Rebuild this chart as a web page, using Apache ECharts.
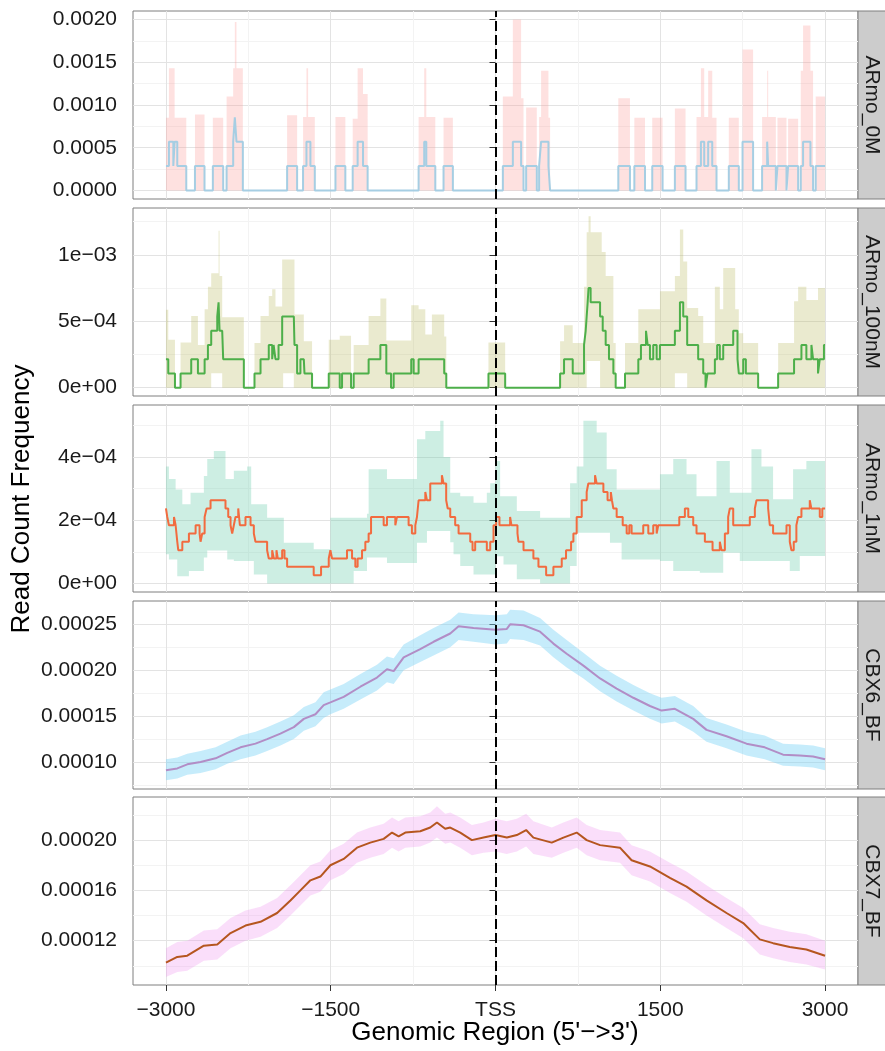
<!DOCTYPE html>
<html><head><meta charset="utf-8">
<script src="https://cdn.jsdelivr.net/npm/echarts@6/dist/echarts.min.js"></script>
<style>html,body{margin:0;padding:0;background:#fff}#c{width:885px;height:1051px}</style>
</head><body><div id="c"></div>
<script>
// ---------------- DATA ----------------
const facetNames = ['ARmo_0M', 'ARmo_100nM', 'ARmo_1nM', 'CBX6_BF', 'CBX7_BF'];
const xTicks = [-3000, -1500, 0, 1500, 3000];
const xTickLabels = ['\u22123000', '\u22121500', 'TSS', '1500', '3000'];
const xMinor = [-2250, -750, 750, 2250];

// Panel 1: ARmo_0M (step data; ribbon from 0 to upper)
const p1X = [-3000,-2973,-2933,-2921,-2897,-2815,-2736,-2649,-2573,-2479,
  -2448,-2388,-2373,-2358,-2300,-1897,-1806,-1752,-1721,-1706,
  -1685,-1645,-1457,-1367,-1300,-1255,-1206,-1164,-700,-649,
  -630,-548,-473,-388,67,158,233,255,279,376,
  397,415,482,497,1118,1224,1264,1361,1427,1521,
  1633,1730,1830,1870,1900,1936,1973,2012,2124,2215,
  2249,2345,2427,2473,2482,2552,2567,2649,2664,2755,
  2779,2800,2867,2891,2915,3000];
const p1Mean = [2.86e-4,5.71e-4,2.86e-4,5.71e-4,2.86e-4,0,2.86e-4,0,2.86e-4,0,
  2.86e-4,5.71e-4,8.57e-4,5.71e-4,0,2.86e-4,0,2.86e-4,5.71e-4,5.71e-4,
  2.86e-4,0,2.86e-4,0,2.86e-4,5.71e-4,2.86e-4,0,2.86e-4,5.71e-4,
  2.86e-4,0,2.86e-4,0,2.86e-4,5.71e-4,2.86e-4,0,2.86e-4,0,
  2.86e-4,5.71e-4,2.86e-4,0,2.86e-4,0,2.86e-4,0,2.86e-4,0,
  2.86e-4,0,2.86e-4,5.71e-4,2.86e-4,5.71e-4,2.86e-4,0,2.86e-4,0,
  5.71e-4,0,2.86e-4,5.71e-4,2.86e-4,0,2.86e-4,0,2.86e-4,0,
  2.86e-4,5.71e-4,2.86e-4,0,2.86e-4,2.86e-4];
const p1Hi = [8.5e-4,1.43e-3,1.43e-3,8.5e-4,8.5e-4,0,8.9e-4,0,8.5e-4,0,
  1.1e-3,1.43e-3,1.97e-3,1.43e-3,0,8.8e-4,0,8.6e-4,1.43e-3,8.6e-4,
  8.6e-4,0,8.6e-4,0,8.4e-4,1.43e-3,1.13e-3,0,8.6e-4,1.43e-3,
  8.6e-4,0,8.5e-4,0,1.1e-3,2.0e-3,1.08e-3,0,9.7e-4,0,
  8.6e-4,1.4e-3,8.5e-4,0,1.08e-3,0,8.5e-4,0,8.5e-4,0,
  9.6e-4,0,8.6e-4,1.43e-3,8.6e-4,1.4e-3,8.5e-4,0,8.5e-4,0,
  1.65e-3,0,8.6e-4,1.4e-3,8.6e-4,0,8.5e-4,0,8.4e-4,0,
  1.4e-3,1.93e-3,1.4e-3,0,1.1e-3,1.1e-3];

// Panel 2: ARmo_100nM
const p2X = [-3000,-2979,-2918,-2867,-2770,-2709,-2648,-2618,-2588,-2533,
  -2521,-2512,-2488,-2479,-2291,-2194,-2139,-2064,-2033,-2020,
  -2003,-1975,-1942,-1933,-1836,-1830,-1806,-1776,-1745,-1739,
  -1670,-1518,-1418,-1397,-1315,-1291,-1155,-1048,-994,-951,
  -927,-767,-745,-700,-639,-579,-467,-448,-64,88,
  588,624,703,806,821,830,839,847,866,952,
  967,976,1003,1033,1073,1094,1179,1300,1324,1370,
  1385,1406,1436,1467,1497,1633,1679,1709,1745,1845,
  1891,1912,1930,1997,2018,2042,2073,2164,2182,2203,
  2215,2255,2279,2391,2573,2718,2755,2785,2830,2876,
  2891,2936,2952,2990,3000];
const p2Mean = [2.14e-4,1.07e-4,0,1.07e-4,2.14e-4,1.07e-4,2.14e-4,3.21e-4,4.28e-4,5.35e-4,
  6.42e-4,4.28e-4,4.28e-4,2.14e-4,0,1.07e-4,2.14e-4,3.21e-4,2.14e-4,3.21e-4,
  2.14e-4,3.21e-4,5.35e-4,5.35e-4,5.35e-4,3.21e-4,1.07e-4,2.14e-4,2.14e-4,1.07e-4,
  0,1.07e-4,0,1.07e-4,0,1.07e-4,2.14e-4,3.21e-4,1.07e-4,0,
  1.07e-4,2.14e-4,1.07e-4,2.14e-4,2.14e-4,2.14e-4,1.07e-4,0,1.07e-4,0,
  1.07e-4,2.14e-4,1.07e-4,3.21e-4,4.28e-4,5.35e-4,6.42e-4,7.49e-4,6.42e-4,5.35e-4,
  5.35e-4,4.28e-4,3.21e-4,2.14e-4,1.07e-4,0,1.07e-4,2.14e-4,3.21e-4,4.28e-4,
  3.21e-4,2.14e-4,3.21e-4,2.14e-4,3.21e-4,4.28e-4,6.42e-4,5.35e-4,3.21e-4,2.14e-4,
  1.07e-4,0,1.07e-4,2.14e-4,3.21e-4,2.14e-4,3.21e-4,4.28e-4,4.28e-4,2.14e-4,
  1.07e-4,2.14e-4,1.07e-4,0,1.07e-4,2.14e-4,2.14e-4,3.21e-4,2.14e-4,3.21e-4,
  2.14e-4,1.07e-4,2.14e-4,3.21e-4,3.21e-4];
const p2Lo = [0,0,0,0,0,0,0,0,1.08e-4,1.08e-4,
  1.08e-4,1.08e-4,0,0,0,0,0,0,0,0,
  0,0,0,1.08e-4,0,0,0,0,0,0,
  0,0,0,0,0,0,0,0,0,0,
  0,0,0,0,0,0,0,0,0,0,
  0,0,0,0,0,2e-4,2e-4,2e-4,2e-4,0,
  0,0,0,0,0,0,0,0,0,0,
  0,0,0,0,0,1.08e-4,1.08e-4,1.08e-4,0,0,
  0,0,0,0,0,0,0,0,0,0,
  0,0,0,0,0,0,0,0,0,0,
  0,0,0,0,0];
const p2Hi = [5.87e-4,3.6e-4,0,3.4e-4,5.4e-4,3.2e-4,5.9e-4,7.6e-4,8.6e-4,8.6e-4,
  1.18e-3,8.4e-4,5.3e-4,5.3e-4,0,3.35e-4,5.4e-4,6.9e-4,7.4e-4,7.4e-4,
  6.1e-4,6.1e-4,9.65e-4,9.65e-4,9.65e-4,5.5e-4,5.5e-4,5.5e-4,3.5e-4,3.5e-4,
  0,3.6e-4,3.9e-4,3.9e-4,0,3.2e-4,5.4e-4,6.7e-4,3.55e-4,3.55e-4,
  3.55e-4,6.2e-4,6.2e-4,5.9e-4,4.0e-4,5.5e-4,3.85e-4,0,3.4e-4,0,
  3.5e-4,4.7e-4,3.35e-4,7.6e-4,7.6e-4,1.17e-3,1.17e-3,1.29e-3,1.17e-3,1.17e-3,
  1.02e-3,1.02e-3,8.4e-4,8.4e-4,3.35e-4,0,3.35e-4,5.9e-4,5.9e-4,5.9e-4,
  5.9e-4,5.9e-4,5.9e-4,5.9e-4,7.25e-4,8.4e-4,1.19e-3,9.5e-4,6.0e-4,5.4e-4,
  3.35e-4,3.35e-4,3.35e-4,7.6e-4,7.6e-4,5.9e-4,9.0e-4,9.0e-4,5.9e-4,5.9e-4,
  4.1e-4,3.35e-4,3.35e-4,0,3.35e-4,6.5e-4,7.6e-4,7.6e-4,6.6e-4,6.6e-4,
  6.6e-4,7.5e-4,7.5e-4,7.5e-4,7.5e-4];

// Panel 3: ARmo_1nM (mean steps + separate ribbon steps)
const p3X = [-3000,-2988,-2973,-2927,-2912,-2897,-2888,-2851,-2791,-2730,
  -2694,-2685,-2670,-2648,-2630,-2594,-2458,-2433,-2412,-2397,
  -2382,-2367,-2342,-2327,-2276,-2230,-2200,-2185,-2079,-2064,
  -2033,-2018,-1994,-1982,-1942,-1921,-1897,-1655,-1588,-1518,
  -1503,-1488,-1352,-1306,-1276,-1255,-1215,-1185,-1155,-1133,
  -1018,-988,-912,-897,-791,-761,-730,-715,-700,-639,
  -624,-594,-488,-473,-449,-435,-412,-367,-336,-230,
  -209,-185,-79,-48,-18,6,36,133,145,200,
  209,255,345,391,461,527,603,642,688,709,
  739,785,830,845,906,921,982,1020,1050,1060,
  1073,1103,1158,1194,1218,1239,1345,1391,1436,1467,
  1482,1673,1724,1755,1800,1830,1906,1976,2042,2058,
  2088,2118,2133,2164,2315,2361,2376,2482,2497,2527,
  2649,2679,2694,2715,2739,2755,2785,2861,2875,2952,
  2975,3000];
const p3Mean = [2.37e-4,2.10e-4,1.84e-4,2.10e-4,1.84e-4,1.32e-4,1.05e-4,1.32e-4,1.58e-4,1.84e-4,
  1.58e-4,1.32e-4,1.58e-4,2.10e-4,2.37e-4,2.63e-4,2.37e-4,2.10e-4,1.84e-4,1.58e-4,
  1.84e-4,2.10e-4,2.37e-4,1.84e-4,2.10e-4,1.84e-4,1.58e-4,1.32e-4,1.05e-4,0.79e-4,
  1.05e-4,0.79e-4,1.05e-4,0.79e-4,1.05e-4,0.79e-4,0.53e-4,0.26e-4,0.53e-4,0.79e-4,
  1.05e-4,0.79e-4,1.05e-4,0.79e-4,0.53e-4,0.79e-4,1.05e-4,1.32e-4,1.58e-4,2.10e-4,
  1.84e-4,2.10e-4,1.84e-4,2.10e-4,1.84e-4,1.58e-4,1.84e-4,2.10e-4,2.63e-4,2.89e-4,
  2.63e-4,3.16e-4,3.42e-4,3.16e-4,2.63e-4,2.37e-4,2.10e-4,1.84e-4,1.58e-4,1.32e-4,
  1.05e-4,1.32e-4,1.05e-4,1.32e-4,1.84e-4,2.10e-4,1.84e-4,2.10e-4,1.84e-4,1.58e-4,
  1.32e-4,1.05e-4,0.79e-4,0.53e-4,0.26e-4,0.53e-4,0.79e-4,1.05e-4,1.32e-4,1.58e-4,
  2.10e-4,2.63e-4,2.89e-4,3.16e-4,3.42e-4,3.16e-4,2.89e-4,2.63e-4,2.89e-4,2.63e-4,
  2.37e-4,2.10e-4,1.84e-4,1.58e-4,1.84e-4,1.58e-4,1.84e-4,1.58e-4,1.84e-4,1.58e-4,
  1.84e-4,2.10e-4,2.37e-4,2.10e-4,1.84e-4,1.58e-4,1.32e-4,1.05e-4,1.32e-4,1.05e-4,
  1.58e-4,2.10e-4,2.37e-4,1.84e-4,2.10e-4,2.37e-4,2.63e-4,2.37e-4,1.84e-4,1.58e-4,
  1.84e-4,1.32e-4,1.05e-4,1.32e-4,1.84e-4,2.10e-4,2.37e-4,2.63e-4,2.37e-4,2.10e-4,
  2.37e-4,2.37e-4];
const p3BandX = [-3000,-2973,-2912,-2897,-2851,-2791,-2776,-2655,-2624,-2564,
  -2458,-2442,-2382,-2261,-2224,-2200,-2079,-1927,-1655,-1503,
  -1291,-1170,-1155,-988,-715,-639,-624,-503,-473,-412,
  -382,-321,-200,-79,-48,0,42,73,194,406,
  679,739,800,921,1012,1042,1103,1148,1497,1618,
  1739,1830,1860,2012,2073,2133,2224,2330,2421,2527,
  2679,2709,2770,2830,3000];
const p3Lo = [0.92e-4,0.76e-4,0.76e-4,0.23e-4,0.23e-4,0.39e-4,0.39e-4,0.82e-4,1.04e-4,1.04e-4,
  1.04e-4,0.76e-4,0.71e-4,0.71e-4,0.71e-4,0.28e-4,0,0,0,0,
  0.39e-4,0.82e-4,0.82e-4,0.65e-4,1.29e-4,1.29e-4,1.66e-4,1.66e-4,1.66e-4,1.30e-4,
  0.92e-4,0.55e-4,0.28e-4,0.28e-4,0.28e-4,0.86e-4,0.86e-4,0.60e-4,0.13e-4,0,
  0.55e-4,1.60e-4,1.60e-4,1.60e-4,1.60e-4,1.29e-4,1.29e-4,0.76e-4,0.71e-4,0.39e-4,
  0.39e-4,0.39e-4,0.34e-4,0.34e-4,0.97e-4,0.97e-4,0.71e-4,0.71e-4,0.71e-4,0.71e-4,
  0.39e-4,0.39e-4,0.87e-4,0.87e-4,0.87e-4];
const p3Hi = [3.70e-4,3.30e-4,2.97e-4,2.97e-4,2.50e-4,2.50e-4,2.87e-4,3.40e-4,3.93e-4,4.19e-4,
  3.30e-4,3.30e-4,3.56e-4,3.70e-4,2.50e-4,2.50e-4,2.08e-4,1.29e-4,1.08e-4,2.08e-4,
  2.08e-4,2.20e-4,3.61e-4,3.30e-4,4.56e-4,4.82e-4,4.82e-4,5.14e-4,4.00e-4,2.87e-4,
  2.87e-4,2.76e-4,2.55e-4,2.87e-4,3.17e-4,3.87e-4,2.76e-4,2.76e-4,2.29e-4,2.08e-4,
  3.17e-4,3.70e-4,5.14e-4,4.77e-4,3.61e-4,3.61e-4,2.97e-4,2.97e-4,3.45e-4,3.93e-4,
  3.45e-4,2.76e-4,2.76e-4,3.87e-4,3.87e-4,2.87e-4,2.87e-4,4.24e-4,3.70e-4,2.66e-4,
  2.66e-4,3.61e-4,3.61e-4,3.87e-4,3.87e-4];

// Panel 4: CBX6_BF
const p4X = [-3000,-2897,-2806,-2685,-2548,-2442,-2321,-2185,-2079,-1958,
  -1836,-1745,-1639,-1564,-1503,-1382,-1230,-1079,-988,-927,
  -836,-685,-564,-412,-336,-200,0,103,133,255,
  406,527,648,800,952,1103,1255,1406,1512,1633,
  1800,1921,2103,2285,2451,2618,2770,2891,3000];
const p4Mean = [0.91e-4,0.93e-4,0.975e-4,1.00e-4,1.04e-4,1.10e-4,1.16e-4,1.20e-4,1.25e-4,1.31e-4,
  1.38e-4,1.47e-4,1.52e-4,1.62e-4,1.65e-4,1.71e-4,1.82e-4,1.92e-4,2.01e-4,1.99e-4,
  2.14e-4,2.23e-4,2.31e-4,2.40e-4,2.48e-4,2.46e-4,2.44e-4,2.45e-4,2.50e-4,2.49e-4,
  2.42e-4,2.29e-4,2.18e-4,2.05e-4,1.91e-4,1.80e-4,1.70e-4,1.61e-4,1.56e-4,1.58e-4,
  1.47e-4,1.35e-4,1.28e-4,1.20e-4,1.16e-4,1.08e-4,1.07e-4,1.06e-4,1.03e-4];
const p4Lo = [0.80e-4,0.82e-4,0.86e-4,0.88e-4,0.92e-4,0.98e-4,1.03e-4,1.07e-4,1.12e-4,1.18e-4,
  1.25e-4,1.34e-4,1.39e-4,1.48e-4,1.52e-4,1.58e-4,1.68e-4,1.78e-4,1.87e-4,1.85e-4,
  2.00e-4,2.09e-4,2.16e-4,2.25e-4,2.33e-4,2.31e-4,2.28e-4,2.29e-4,2.34e-4,2.33e-4,
  2.27e-4,2.14e-4,2.03e-4,1.91e-4,1.77e-4,1.66e-4,1.56e-4,1.47e-4,1.42e-4,1.44e-4,
  1.33e-4,1.22e-4,1.15e-4,1.07e-4,1.03e-4,0.96e-4,0.95e-4,0.94e-4,0.91e-4];
const p4Hi = [1.03e-4,1.05e-4,1.09e-4,1.12e-4,1.16e-4,1.22e-4,1.29e-4,1.33e-4,1.38e-4,1.44e-4,
  1.51e-4,1.60e-4,1.65e-4,1.76e-4,1.79e-4,1.85e-4,1.96e-4,2.06e-4,2.15e-4,2.13e-4,
  2.28e-4,2.38e-4,2.46e-4,2.55e-4,2.63e-4,2.61e-4,2.60e-4,2.61e-4,2.66e-4,2.65e-4,
  2.57e-4,2.44e-4,2.33e-4,2.19e-4,2.05e-4,1.94e-4,1.84e-4,1.75e-4,1.70e-4,1.72e-4,
  1.61e-4,1.48e-4,1.41e-4,1.33e-4,1.29e-4,1.20e-4,1.19e-4,1.18e-4,1.15e-4];

// Panel 5: CBX7_BF
const p5X = [-3000,-2897,-2806,-2655,-2533,-2412,-2276,-2139,-1988,-1867,
  -1776,-1685,-1594,-1503,-1382,-1261,-1140,-1018,-942,-882,
  -821,-685,-594,-533,-458,-412,-321,-215,-109,0,
  103,194,279,345,512,618,739,830,952,1133,
  1239,1406,1588,1739,1921,2103,2255,2406,2527,2679,
  2830,3000];
const p5Mean = [1.025e-4,1.07e-4,1.08e-4,1.16e-4,1.17e-4,1.26e-4,1.32e-4,1.35e-4,1.42e-4,1.52e-4,
  1.60e-4,1.68e-4,1.71e-4,1.80e-4,1.85e-4,1.94e-4,1.98e-4,2.01e-4,2.06e-4,2.03e-4,
  2.06e-4,2.07e-4,2.10e-4,2.14e-4,2.09e-4,2.10e-4,2.06e-4,2.00e-4,2.02e-4,2.04e-4,
  2.02e-4,2.04e-4,2.08e-4,2.02e-4,1.98e-4,2.02e-4,2.06e-4,2.00e-4,1.96e-4,1.94e-4,
  1.84e-4,1.79e-4,1.70e-4,1.63e-4,1.52e-4,1.42e-4,1.34e-4,1.21e-4,1.18e-4,1.15e-4,
  1.13e-4,1.08e-4];
const p5Lo = [0.91e-4,0.95e-4,0.96e-4,1.04e-4,1.05e-4,1.14e-4,1.20e-4,1.23e-4,1.30e-4,1.40e-4,
  1.48e-4,1.56e-4,1.59e-4,1.68e-4,1.73e-4,1.82e-4,1.86e-4,1.89e-4,1.94e-4,1.91e-4,
  1.94e-4,1.95e-4,1.98e-4,2.02e-4,1.97e-4,1.98e-4,1.94e-4,1.88e-4,1.90e-4,1.91e-4,
  1.89e-4,1.91e-4,1.95e-4,1.89e-4,1.86e-4,1.90e-4,1.94e-4,1.88e-4,1.84e-4,1.82e-4,
  1.72e-4,1.67e-4,1.58e-4,1.51e-4,1.40e-4,1.30e-4,1.22e-4,1.09e-4,1.06e-4,1.03e-4,
  1.01e-4,0.97e-4];
const p5Hi = [1.14e-4,1.19e-4,1.20e-4,1.28e-4,1.29e-4,1.38e-4,1.44e-4,1.47e-4,1.54e-4,1.64e-4,
  1.72e-4,1.80e-4,1.83e-4,1.92e-4,1.97e-4,2.06e-4,2.10e-4,2.13e-4,2.18e-4,2.15e-4,
  2.18e-4,2.19e-4,2.22e-4,2.27e-4,2.21e-4,2.22e-4,2.18e-4,2.12e-4,2.14e-4,2.17e-4,
  2.15e-4,2.17e-4,2.21e-4,2.15e-4,2.10e-4,2.14e-4,2.18e-4,2.12e-4,2.08e-4,2.06e-4,
  1.96e-4,1.91e-4,1.82e-4,1.75e-4,1.64e-4,1.54e-4,1.46e-4,1.33e-4,1.30e-4,1.27e-4,
  1.25e-4,1.20e-4];

// Y tick values / labels per panel
const p1Ticks = [0, 0.0005, 0.001, 0.0015, 0.002];
const p1TickLabels = ['0.0000', '0.0005', '0.0010', '0.0015', '0.0020'];
const p1Minor = [0.00025, 0.00075, 0.00125, 0.00175];
const p2Ticks = [0, 0.0005, 0.001];
const p2TickLabels = ['0e+00', '5e\u221204', '1e\u221203'];
const p2Minor = [0.00025, 0.00075, 0.00125];
const p3Ticks = [0, 0.0002, 0.0004];
const p3TickLabels = ['0e+00', '2e\u221204', '4e\u221204'];
const p3Minor = [0.0001, 0.0003, 0.0005];
const p4Ticks = [0.0001, 0.00015, 0.0002, 0.00025];
const p4TickLabels = ['0.00010', '0.00015', '0.00020', '0.00025'];
const p4Minor = [0.000075, 0.000125, 0.000175, 0.000225];
const p5Ticks = [0.00012, 0.00016, 0.0002];
const p5TickLabels = ['0.00012', '0.00016', '0.00020'];
const p5Minor = [0.0001, 0.00014, 0.00018, 0.00022];

// Axis ranges (y) per panel
const yMins = [-0.0001, -0.000063, -0.000027, 0.0000706, 0.0000847];
const yMaxs = [0.0021, 0.001352, 0.000564, 0.0002754, 0.0002343];

// ---------------- CHART ----------------
const FONT = '"Liberation Sans", Arial, Helvetica, sans-serif';
const panels = [
  {x: p1X, mean: p1Mean, bx: p1X, lo: null, hi: p1Hi, step: true, ticks: p1Ticks, labels: p1TickLabels, minor: p1Minor,
   line: '#A6CEE3', band: 'rgba(251,154,153,0.30)'},
  {x: p2X, mean: p2Mean, bx: p2X, lo: p2Lo, hi: p2Hi, step: true, ticks: p2Ticks, labels: p2TickLabels, minor: p2Minor,
   line: '#4DAF4A', band: 'rgba(185,185,95,0.30)'},
  {x: p3X, mean: p3Mean, bx: p3BandX, lo: p3Lo, hi: p3Hi, step: true, ticks: p3Ticks, labels: p3TickLabels, minor: p3Minor,
   line: '#F26B3F', band: 'rgba(102,204,170,0.33)'},
  {x: p4X, mean: p4Mean, bx: p4X, lo: p4Lo, hi: p4Hi, step: false, ticks: p4Ticks, labels: p4TickLabels, minor: p4Minor,
   line: '#B28DC6', band: 'rgba(120,210,245,0.42)'},
  {x: p5X, mean: p5Mean, bx: p5X, lo: p5Lo, hi: p5Hi, step: false, ticks: p5Ticks, labels: p5TickLabels, minor: p5Minor,
   line: '#B5561F', band: 'rgba(238,145,238,0.30)'}
];
const gridTops = [11, 208, 405, 601, 797];
const gridHeights = [188, 188, 187, 188, 188];
const GL = 133, GR = 27;

function lab(ticks, labels, v) {
  for (let i = 0; i < ticks.length; i++) {
    if (Math.abs(ticks[i] - v) < Math.max(1e-12, Math.abs(ticks[i]) * 1e-6)) return labels[i];
  }
  return '';
}

const grids = [], xAxes = [], yAxes = [], series = [], graphics = [];
panels.forEach((p, i) => {
  const last = i === panels.length - 1;
  grids.push({left: GL, right: GR, top: gridTops[i], height: gridHeights[i], show: true,
    backgroundColor: '#ffffff', borderColor: '#7F7F7F', borderWidth: 1, containLabel: false});
  xAxes.push({type: 'value', gridIndex: i, min: -3300, max: 3300,
    axisLine: {show: false},
    axisTick: {show: last, customValues: xTicks, length: 6, lineStyle: {color: '#333', width: 1}},
    axisLabel: {show: last, customValues: xTicks, formatter: v => lab(xTicks, xTickLabels, v),
      margin: 15, fontSize: 21, color: '#1A1A1A', fontFamily: FONT},
    splitLine: {show: true, lineStyle: {color: '#E3E3E3', width: 1}}});
  xAxes.push({type: 'value', gridIndex: i, min: -3300, max: 3300,
    axisLine: {show: false}, axisTick: {show: false, customValues: xMinor}, axisLabel: {show: false},
    splitLine: {show: true, lineStyle: {color: '#F3F3F3', width: 1}}});
  yAxes.push({type: 'value', gridIndex: i, min: yMins[i], max: yMaxs[i], position: 'left',
    axisLine: {show: false},
    axisTick: {show: true, customValues: p.ticks, length: 6, lineStyle: {color: '#333', width: 1}},
    axisLabel: {show: true, customValues: p.ticks, formatter: v => lab(p.ticks, p.labels, v),
      margin: 16, fontSize: 21, color: '#1A1A1A', fontFamily: FONT},
    splitLine: {show: true, lineStyle: {color: '#E3E3E3', width: 1}}});
  yAxes.push({type: 'value', gridIndex: i, min: yMins[i], max: yMaxs[i], position: 'left',
    axisLine: {show: false}, axisTick: {show: false, customValues: p.minor}, axisLabel: {show: false},
    splitLine: {show: true, lineStyle: {color: '#F3F3F3', width: 1}}});

  // ribbon as a polygon through the axis scales
  const bandData = p.bx.map((x, k) => [x, p.lo ? p.lo[k] : 0, p.hi[k]]);
  series.push({
    type: 'custom', coordinateSystem: 'cartesian2d', xAxisIndex: 2 * i, yAxisIndex: 2 * i,
    data: bandData, encode: {x: 0, y: [1, 2]}, silent: true, z: 2,
    renderItem: (params, api) => {
      if (params.dataIndex !== 0) return null;
      const n = bandData.length, pts = [];
      for (let k = 0; k < n; k++) {
        pts.push(api.coord([bandData[k][0], bandData[k][2]]));
        if (p.step && k < n - 1) pts.push(api.coord([bandData[k + 1][0], bandData[k][2]]));
      }
      for (let k = n - 1; k >= 0; k--) {
        if (p.step && k < n - 1) pts.push(api.coord([bandData[k + 1][0], bandData[k][1]]));
        pts.push(api.coord([bandData[k][0], bandData[k][1]]));
      }
      return {type: 'polygon', shape: {points: pts}, style: {fill: p.band, stroke: null}};
    }
  });
  series.push({
    type: 'line', xAxisIndex: 2 * i, yAxisIndex: 2 * i, z: 3,
    data: p.x.map((x, k) => [x, p.mean[k]]),
    step: p.step ? 'end' : false, symbol: 'none', silent: true,
    lineStyle: {color: p.line, width: 2},
    markLine: {silent: true, symbol: ['none', 'none'], label: {show: false},
      lineStyle: {color: '#000', type: [10, 4], width: 2},
      data: [{xAxis: 0}], animation: false}
  });

  // facet strip
  graphics.push({type: 'rect', shape: {x: 858, y: gridTops[i], width: 30, height: gridHeights[i]},
    style: {fill: '#CCCCCC', stroke: '#7F7F7F', lineWidth: 1}, silent: true});
  graphics.push({type: 'text', x: 872, y: gridTops[i] + gridHeights[i] / 2, rotation: -Math.PI / 2,
    style: {text: facetNames[i], font: '21px ' + FONT, fill: '#1A1A1A',
      align: 'center', verticalAlign: 'middle', textAlign: 'center', textVerticalAlign: 'middle'}, silent: true});
});

graphics.push({type: 'text', x: 22, y: 499, rotation: Math.PI / 2,
  style: {text: 'Read Count Frequency', font: '26px ' + FONT, fill: '#000',
    align: 'center', verticalAlign: 'middle', textAlign: 'center', textVerticalAlign: 'middle'}, silent: true});
graphics.push({type: 'text', x: 495, y: 1033,
  style: {text: 'Genomic Region (5\'\u2212>3\')', font: '26px ' + FONT, fill: '#000',
    align: 'center', verticalAlign: 'middle', textAlign: 'center', textVerticalAlign: 'middle'}, silent: true});

const chart = echarts.init(document.getElementById('c'), null, {renderer: 'canvas', width: 885, height: 1051});
chart.setOption({
  animation: false,
  backgroundColor: '#ffffff',
  grid: grids, xAxis: xAxes, yAxis: yAxes, series: series, graphic: graphics
});
</script></body></html>
